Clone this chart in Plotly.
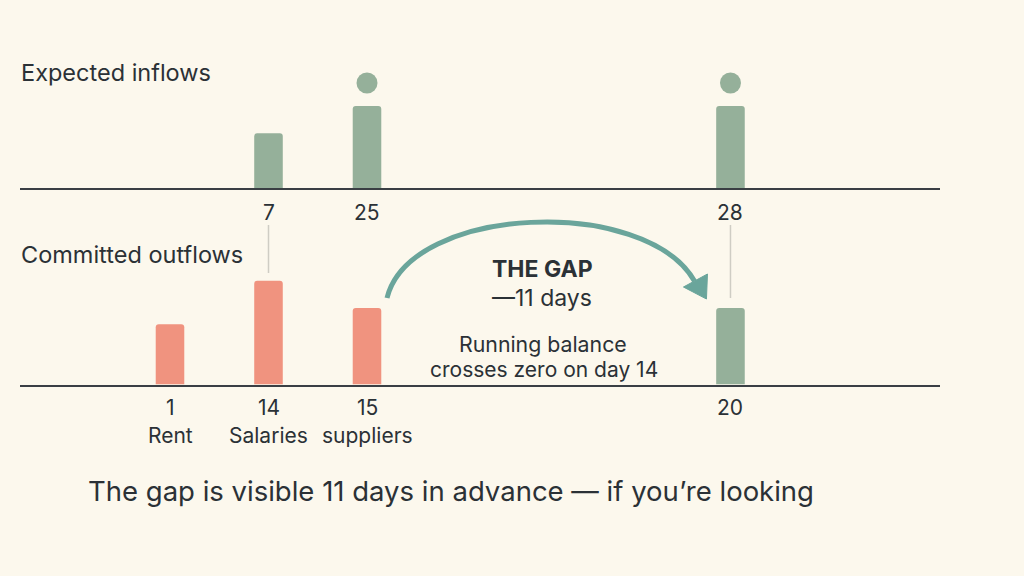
import plotly.graph_objects as go

# ---------------- data ----------------
inflow_days = ["7", "25", "28"]
inflow_values = [20, 30, 30]
inflow_confirmed = [False, True, True]

outflow_days = ["1", "14", "15"]
outflow_names = ["Rent", "Salaries", "suppliers"]
outflow_values = [22, 38, 28]

late_inflow_day = ["20"]
late_inflow_value = [28]

gap_days = 11
crossing_day = 14

# column slots on the shared timeline
inflow_cols = [2, 3, 6.69]
outflow_cols = [1, 2, 3]
late_cols = [6.69]

# ---------------- style ----------------
W, H = 1024, 576
BG = "#fcf8ed"
GREEN = "#95b09a"
RED = "#f0937f"
TEAL = "#6aa59b"
INK = "#2b3136"
GREY = "#cfcdc4"
FONT = "Inter"

# pixel geometry
SLOT_PX = 98.5
COL1_PX = 170
LINE_X0, LINE_X1 = 20, 940
TOP_BASE = 188
BOT_BASE = 384.5
PX_PER_UNIT = 2.733


def px_to_x(p):
    return 1 + (p - COL1_PX) / SLOT_PX


def col_to_px(c):
    return COL1_PX + (c - 1) * SLOT_PX


def py(p):
    return 1 - p / H


def pxx(p):
    return p / W


x_range = [px_to_x(LINE_X0), px_to_x(LINE_X1)]
x_domain = [LINE_X0 / W, LINE_X1 / W]

fig = go.Figure()

fig.add_trace(go.Bar(x=inflow_cols, y=inflow_values, width=0.29,
                     marker=dict(color=GREEN, line=dict(width=0)),
                     xaxis="x", yaxis="y", hoverinfo="skip"))
conf_x = [c for c, f in zip(inflow_cols, inflow_confirmed) if f]
conf_y = [v + 23 / PX_PER_UNIT for v, f in zip(inflow_values, inflow_confirmed) if f]
fig.add_trace(go.Scatter(x=conf_x, y=conf_y, mode="markers",
                         marker=dict(size=21, color=GREEN),
                         xaxis="x", yaxis="y", hoverinfo="skip"))

fig.add_trace(go.Bar(x=outflow_cols, y=outflow_values, width=0.29,
                     marker=dict(color=RED, line=dict(width=0)),
                     xaxis="x2", yaxis="y2", hoverinfo="skip"))
fig.add_trace(go.Bar(x=late_cols, y=late_inflow_value, width=0.29,
                     marker=dict(color=GREEN, line=dict(width=0)),
                     xaxis="x2", yaxis="y2", hoverinfo="skip"))

top_dom = [1 - TOP_BASE / H, 1.0]
bot_top_px = 200
bot_dom = [1 - BOT_BASE / H, 1 - bot_top_px / H]

axis_common = dict(range=x_range, domain=x_domain, showgrid=False, zeroline=False,
                   showticklabels=False, ticks="", showline=True,
                   linecolor="#3a3f44", linewidth=2, fixedrange=True)

fig.update_layout(
    width=W, height=H, margin=dict(l=0, r=0, t=0, b=0),
    paper_bgcolor=BG, plot_bgcolor="rgba(0,0,0,0)",
    showlegend=False, barmode="overlay", barcornerradius=3,
    font=dict(family=FONT, color=INK),
    xaxis=dict(anchor="y", **axis_common),
    yaxis=dict(domain=top_dom, range=[0, TOP_BASE / PX_PER_UNIT], visible=False, fixedrange=True),
    xaxis2=dict(anchor="y2", **axis_common),
    yaxis2=dict(domain=bot_dom, range=[0, (BOT_BASE - bot_top_px) / PX_PER_UNIT],
                visible=False, fixedrange=True),
)

ann = []
# panel titles
ann.append(dict(text="Expected inflows", x=pxx(19), y=py(72), xref="paper", yref="paper",
                xanchor="left", yanchor="middle", showarrow=False, font=dict(size=23.5)))
ann.append(dict(text="Committed outflows", x=pxx(19), y=py(255), xref="paper", yref="paper",
                xanchor="left", yanchor="middle", showarrow=False, font=dict(size=23.5)))

# tick labels
TICK_SIZE = 21
for c, d in zip(inflow_cols, inflow_days):
    ann.append(dict(text=d, x=c, y=py(TOP_BASE + 24), xref="x", yref="paper",
                    xanchor="center", yanchor="middle", showarrow=False, font=dict(size=TICK_SIZE)))
for c, d, n in zip(outflow_cols, outflow_days, outflow_names):
    ann.append(dict(text=d, x=c, y=py(BOT_BASE + 23), xref="x2", yref="paper",
                    xanchor="center", yanchor="middle", showarrow=False, font=dict(size=TICK_SIZE)))
    ann.append(dict(text=n, x=c, y=py(BOT_BASE + 51), xref="x2", yref="paper",
                    xanchor="center", yanchor="middle", showarrow=False, font=dict(size=TICK_SIZE)))
for c, d in zip(late_cols, late_inflow_day):
    ann.append(dict(text=d, x=c, y=py(BOT_BASE + 23), xref="x2", yref="paper",
                    xanchor="center", yanchor="middle", showarrow=False, font=dict(size=TICK_SIZE)))

# gap text
gap_cx = 542
ann.append(dict(text="<b>THE GAP</b>", x=pxx(gap_cx), y=py(269), xref="paper", yref="paper",
                xanchor="center", yanchor="middle", showarrow=False, font=dict(size=23)))
ann.append(dict(text=f"\u2014{gap_days} days", x=pxx(gap_cx), y=py(298), xref="paper", yref="paper",
                xanchor="center", yanchor="middle", showarrow=False, font=dict(size=23)))
ann.append(dict(text="Running balance", x=pxx(gap_cx + 1), y=py(344), xref="paper", yref="paper",
                xanchor="center", yanchor="middle", showarrow=False, font=dict(size=21.3)))
ann.append(dict(text=f"crosses zero on day {crossing_day}", x=pxx(gap_cx + 2), y=py(369),
                xref="paper", yref="paper",
                xanchor="center", yanchor="middle", showarrow=False, font=dict(size=21)))

# footer
ann.append(dict(text=f"The gap is visible {gap_days} days in advance \u2014 if you\u2019re looking",
                x=pxx(86), y=py(491), xref="paper", yref="paper",
                xanchor="left", yanchor="middle", showarrow=False, font=dict(size=27.5)))

shapes = []
# thin connectors
shapes.append(dict(type="line", xref="x", yref="paper", x0=inflow_cols[0], x1=inflow_cols[0],
                   y0=py(225), y1=py(273), line=dict(color=GREY, width=1.5)))
shapes.append(dict(type="line", xref="x", yref="paper", x0=inflow_cols[2], x1=inflow_cols[2],
                   y0=py(225), y1=py(298), line=dict(color=GREY, width=1.5)))

# gap arrow (cubic bezier from suppliers bar to late inflow bar)
sx = col_to_px(outflow_cols[2]) + 20
ex = col_to_px(late_cols[0]) - 36
P = [(sx, 298), (sx + 23, 205), (645, 195), (ex, 281)]
path = "M {} {} C {} {}, {} {}, {} {}".format(*[v for p in P for v in (pxx(p[0]), py(p[1]))])
shapes.append(dict(type="path", xref="paper", yref="paper", path=path,
                   line=dict(color=TEAL, width=5), fillcolor="rgba(0,0,0,0)"))
tri = [(ex - 11, 287), (ex + 13, 274), (ex + 12, 299)]
tpath = "M {} {} L {} {} L {} {} Z".format(*[v for p in tri for v in (pxx(p[0]), py(p[1]))])
shapes.append(dict(type="path", xref="paper", yref="paper", path=tpath,
                   line=dict(color=TEAL, width=1), fillcolor=TEAL))

fig.update_layout(annotations=ann, shapes=shapes)

fig.write_html("out.html", config=dict(displayModeBar=False))
